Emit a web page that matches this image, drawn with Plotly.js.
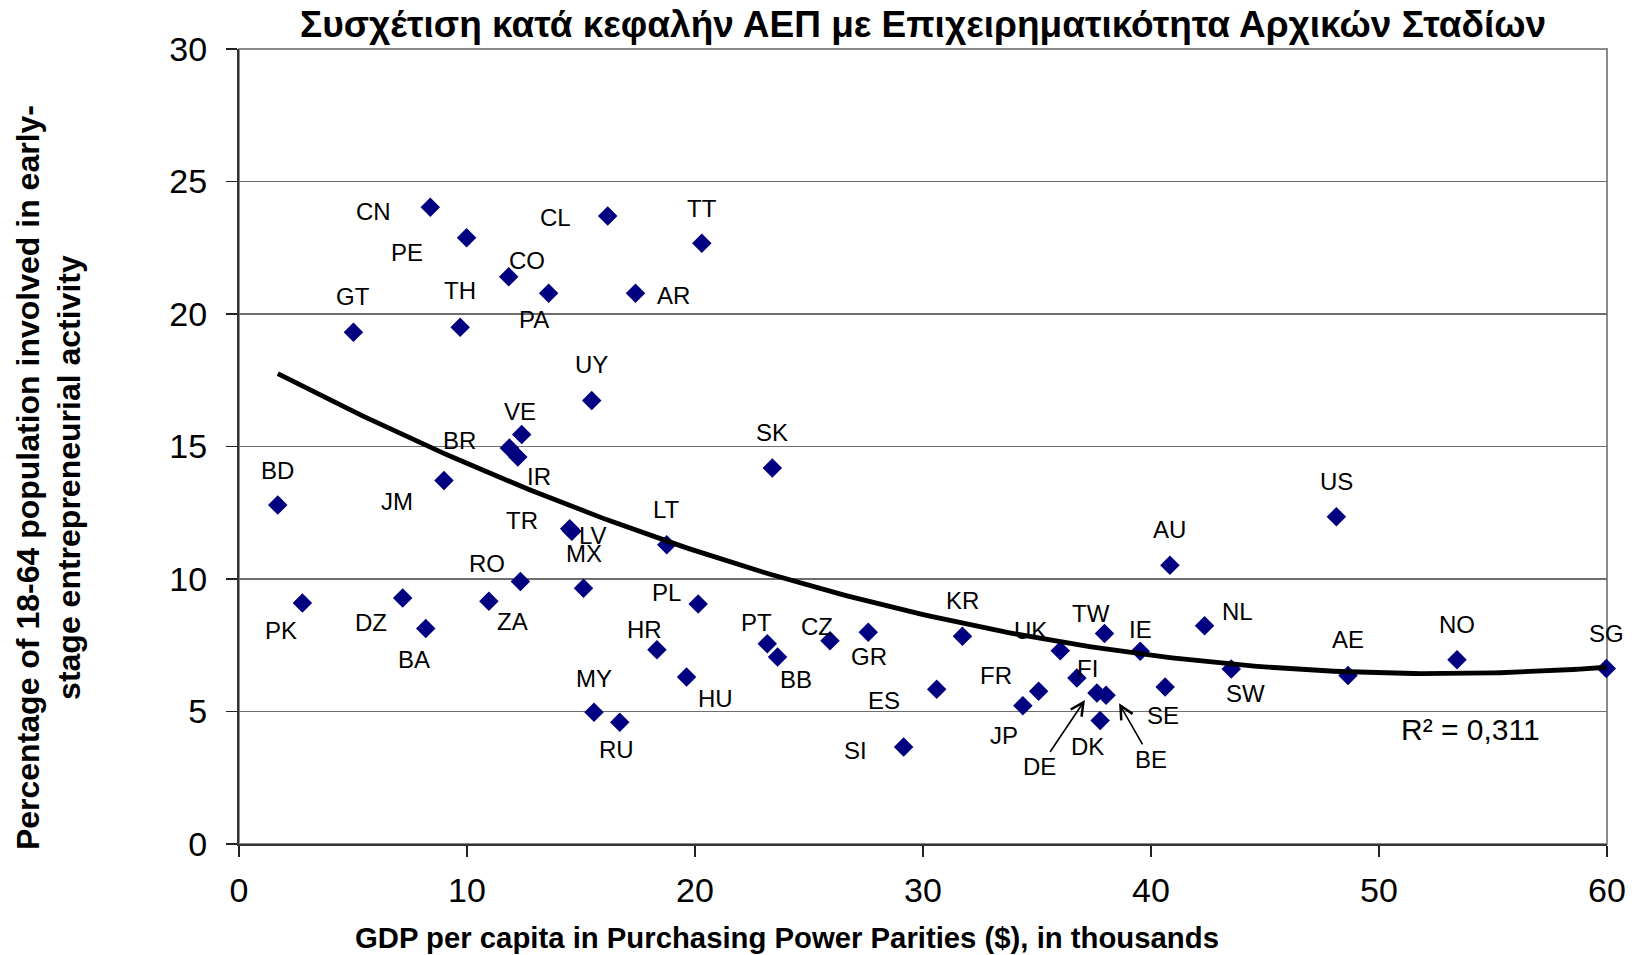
<!DOCTYPE html>
<html>
<head>
<meta charset="utf-8">
<script src="https://cdn.plot.ly/plotly-3.0.1.min.js"></script>
<style>
  html, body { margin: 0; padding: 0; background: #fff; }
  #chart { width: 1644px; height: 955px; }
</style>
</head>
<body>
<div id="chart"></div>
<script>
// ---- Data ----
const countries = ["CN","PE","CL","TT","CO","PA","AR","GT","TH","UY","VE","BR","IR","SK","BD","JM","TR","LV","MX","LT","RO","ZA","PK","DZ","BA","PL","HR","HU","MY","RU","PT","BB","CZ","GR","KR","UK","TW","IE","NL","FI","FR","JP","ES","SI","SE","SW","DK","DE","BE","AU","US","AE","NO","SG"];
const gdpPPP = [8.39,9.98,16.17,20.30,11.83,13.58,17.39,5.02,9.70,15.47,12.40,11.86,12.23,23.39,1.70,8.99,14.50,14.60,15.11,18.76,12.34,10.96,2.78,7.18,8.19,20.14,18.33,19.63,15.57,16.70,23.17,23.62,25.92,27.60,31.73,36.02,37.96,39.53,42.35,36.75,35.07,34.38,30.60,29.15,40.62,43.52,37.77,37.63,38.03,40.83,48.13,48.64,53.42,59.97];
const teaRate = [24.03,22.88,23.70,22.67,21.41,20.78,20.78,19.31,19.50,16.74,15.45,14.94,14.60,14.19,12.79,13.72,11.90,11.80,9.65,11.29,9.91,9.16,9.09,9.28,8.13,9.06,7.33,6.30,4.97,4.59,7.56,7.06,7.67,7.99,7.84,7.29,7.94,7.27,8.24,6.26,5.76,5.22,5.84,3.66,5.92,6.60,4.66,5.70,5.61,10.52,12.35,6.36,6.95,6.62];
const xTicks = [0,10,20,30,40,50,60];
const yTicks = [0,5,10,15,20,25,30];
const chartTitle = "Συσχέτιση κατά κεφαλήν ΑΕΠ με Επιχειρηματικότητα Αρχικών Σταδίων";
const xTitle = "GDP per capita in Purchasing Power Parities ($), in thousands";
const yTitle = "Percentage of 18-64 population involved in early-<br>stage entrepreneurial activity";
const r2Text = "R² = 0,311";

// ---- Label placement (pixel offsets from each point: [dx right, dy down]) ----
const labelOffsets = {
  CN:[-57,4], PE:[-60,15], CL:[-52,2], TT:[0,-35], CO:[18,-16], PA:[-15,26], AR:[38,2],
  GT:[0,-36], TH:[0,-37], UY:[0,-36], VE:[-2,-23], BR:[-50,-8], IR:[21,19], SK:[0,-35],
  BD:[0,-35], JM:[-47,21], TR:[-48,-8], LV:[21,4], MX:[0,-35], LT:[0,-35], RO:[-33,-18],
  ZA:[24,20], PK:[-21,27], DZ:[-32,24], BA:[-12,31], PL:[-32,-11], HR:[-12,-20], HU:[29,21],
  MY:[0,-34], RU:[-3,27], PT:[-11,-21], BB:[18,23], CZ:[-13,-14], GR:[1,24], KR:[0,-36],
  UK:[-30,-20], TW:[-13,-20], IE:[0,-22], NL:[33,-14], FI:[11,-10], FR:[-43,-16], JP:[-19,30],
  ES:[-53,11], SI:[-48,3], SE:[-2,28], SW:[14,24], DK:[-13,26], AU:[0,-36], US:[0,-35],
  AE:[0,-36], NO:[0,-35], SG:[0,-35]
};
// labels drawn with an arrow: [arrow head dx, dy from point, text dx, dy from arrow head]
const arrowLabels = {
  DE:{head:[-12,7], text:[-45,67]},
  BE:{head:[13,8], text:[32,56]}
};

// ---- Quadratic trendline (least squares on the data) ----
function quadFit(xs, ys) {
  let S = [0,0,0,0,0], T = [0,0,0];
  for (let i = 0; i < xs.length; i++) {
    const x = xs[i], y = ys[i];
    let p = 1;
    for (let k = 0; k < 5; k++) { S[k] += p; if (k < 3) T[k] += p * y; p *= x; }
  }
  const A = [[S[0],S[1],S[2],T[0]],[S[1],S[2],S[3],T[1]],[S[2],S[3],S[4],T[2]]];
  for (let c = 0; c < 3; c++) {
    let piv = c;
    for (let r = c+1; r < 3; r++) if (Math.abs(A[r][c]) > Math.abs(A[piv][c])) piv = r;
    [A[c], A[piv]] = [A[piv], A[c]];
    for (let r = 0; r < 3; r++) {
      if (r === c) continue;
      const f = A[r][c] / A[c][c];
      for (let k = c; k < 4; k++) A[r][k] -= f * A[c][k];
    }
  }
  return [A[0][3]/A[0][0], A[1][3]/A[1][1], A[2][3]/A[2][2]];
}
const coef = quadFit(gdpPPP, teaRate);
const xMin = Math.min(...gdpPPP), xMax = Math.max(...gdpPPP);
const trendX = [], trendY = [];
for (let i = 0; i <= 200; i++) {
  const x = xMin + (xMax - xMin) * i / 200;
  trendX.push(x);
  trendY.push(coef[0] + coef[1]*x + coef[2]*x*x);
}

const FONT = "Liberation Sans, Arial, Helvetica, sans-serif";

const traces = [
  {
    type: "scatter", mode: "markers",
    x: gdpPPP, y: teaRate, text: countries,
    marker: { symbol: "diamond", size: 15, color: "#000080", line: { width: 0 } },
    hoverinfo: "text+x+y", cliponaxis: false, showlegend: false
  },
  {
    type: "scatter", mode: "lines",
    x: trendX, y: trendY,
    line: { color: "#000", width: 4.8 },
    hoverinfo: "skip", showlegend: false, cliponaxis: false
  }
];

const annotations = [];
countries.forEach((c, i) => {
  if (arrowLabels[c]) {
    const a = arrowLabels[c];
    annotations.push({
      x: gdpPPP[i], y: teaRate[i], xref: "x", yref: "y",
      xshift: a.head[0], yshift: -a.head[1],
      text: c, showarrow: true, arrowhead: 5, arrowsize: 1.6, arrowwidth: 1.6, arrowcolor: "#000",
      ax: a.text[0], ay: a.text[1], standoff: 0,
      font: { family: FONT, size: 24, color: "#000" }
    });
  } else {
    const o = labelOffsets[c] || [0, -35];
    annotations.push({
      x: gdpPPP[i], y: teaRate[i], xref: "x", yref: "y",
      xshift: o[0], yshift: -o[1], xanchor: "center", yanchor: "middle",
      text: c, showarrow: false,
      font: { family: FONT, size: 24, color: "#000" }
    });
  }
});
annotations.push({
  x: 54.0, y: 4.31, xref: "x", yref: "y", xanchor: "center", yanchor: "middle",
  text: r2Text, showarrow: false, font: { family: FONT, size: 30, color: "#000" }
});
annotations.push({
  x: -0.1393, y: 0.4608, xref: "paper", yref: "paper", xanchor: "center", yanchor: "middle",
  text: "<b>" + yTitle + "</b>", textangle: -90, showarrow: false,
  font: { family: FONT, size: 32, color: "#000" }
});
annotations.push({
  x: 0.4007, y: -0.1179, xref: "paper", yref: "paper", xanchor: "center", yanchor: "middle",
  text: "<b>" + xTitle + "</b>", showarrow: false,
  font: { family: FONT, size: 29.3, color: "#000" }
});

const layout = {
  width: 1644, height: 955,
  margin: { l: 239, r: 37.3, t: 49.3, b: 110.7, pad: 0 },
  paper_bgcolor: "#fff", plot_bgcolor: "#fff",
  title: {
    text: "<b>" + chartTitle + "</b>",
    x: 0.5, xref: "paper", xanchor: "center",
    y: 1 - 24.5/955, yref: "container", yanchor: "middle",
    font: { family: FONT, size: 37, color: "#000" }
  },
  xaxis: {
    range: [0, 60], tickvals: xTicks, ticktext: xTicks.map(String),
    ticks: "outside", ticklen: 11, tickwidth: 1.5, tickcolor: "#222",
    showline: true, linecolor: "#333", linewidth: 2,
    showgrid: false, zeroline: false, ticklabelstandoff: 4,
    tickfont: { family: FONT, size: 34, color: "#000" }, fixedrange: true
  },
  yaxis: {
    range: [0, 30], tickvals: yTicks, ticktext: yTicks.map(String),
    ticks: "outside", ticklen: 11, tickwidth: 1.5, tickcolor: "#222",
    showline: true, linecolor: "#333", linewidth: 2,
    showgrid: true, gridcolor: "#6e6e6e", gridwidth: 1.5, zeroline: false,
    ticklabelstandoff: 12,
    tickfont: { family: FONT, size: 34, color: "#000" }, fixedrange: true
  },
  shapes: [{
    type: "rect", xref: "paper", yref: "paper", x0: 0, x1: 1, y0: 0, y1: 1,
    line: { color: "#8c8c8c", width: 2 }, layer: "below"
  }],
  annotations: annotations,
  showlegend: false
};

Plotly.newPlot("chart", traces, layout, { displayModeBar: false, staticPlot: true });
</script>
</body>
</html>
